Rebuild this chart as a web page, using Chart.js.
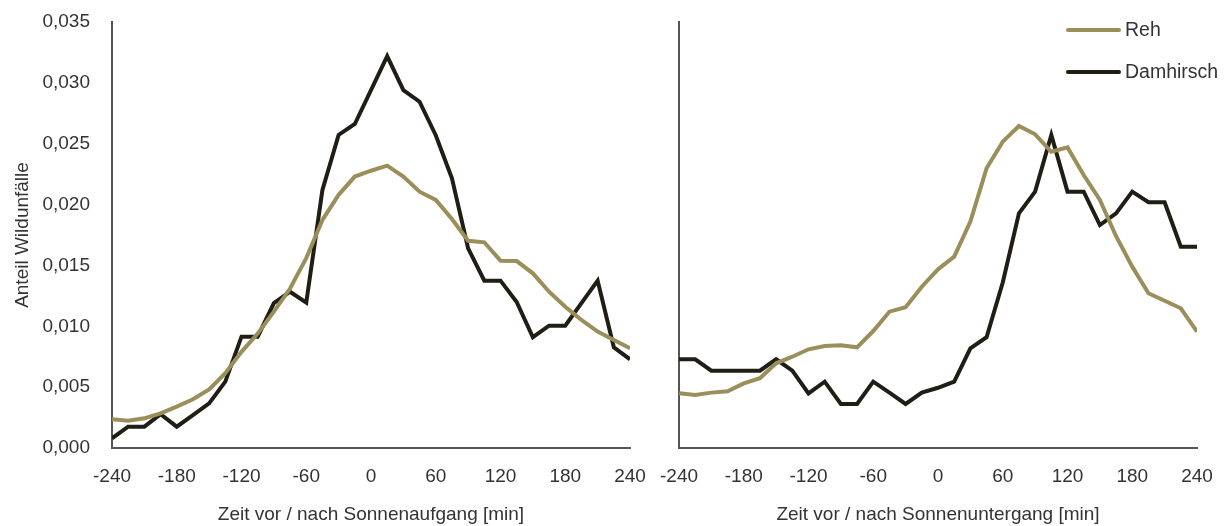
<!DOCTYPE html>
<html>
<head>
<meta charset="utf-8">
<script src="https://cdn.jsdelivr.net/npm/chart.js@4/dist/chart.umd.min.js"></script>
<style>
  html, body { margin: 0; padding: 0; background: #ffffff; }
  #wrap { position: relative; width: 1225px; height: 526px; }
  #left { position: absolute; left: 0; top: 0; }
  #right { position: absolute; left: 650px; top: 0; }
</style>
</head>
<body>
<div id="wrap">
  <canvas id="left" width="650" height="526"></canvas>
  <canvas id="right" width="575" height="526"></canvas>
</div>
<script>
// Minutes relative to sunrise / sunset, 15-minute bins
const minutes = [-240,-225,-210,-195,-180,-165,-150,-135,-120,-105,-90,-75,-60,-45,-30,-15,
                 0,15,30,45,60,75,90,105,120,135,150,165,180,195,210,225,240];

// Share of wildlife accidents around sunrise
const rehAufgang = [0.00236,0.00224,0.00244,0.00285,0.0034,0.0040,0.00482,0.00614,0.0079,0.0094,0.0112,0.0131,
                    0.0156,0.01873,0.0208,0.0223,0.02278,0.0232,0.0223,0.02106,0.02038,0.01881,0.01703,0.0169,
                    0.01539,0.01536,0.01435,0.01284,0.0116,0.01052,0.00956,0.00887,0.00819];
const damhirschAufgang = [0.0008,0.00175,0.00175,0.00277,0.00175,0.0027,0.00367,0.00545,0.00915,0.00915,0.0119,0.01284,
                          0.01194,0.0212,0.02572,0.02662,0.0294,0.0322,0.0294,0.02845,0.0257,0.02216,0.0164,0.01375,
                          0.01375,0.0120,0.0091,0.01005,0.01005,0.0119,0.01375,0.00827,0.00729];

// Share of wildlife accidents around sunset
const rehUntergang = [0.00449,0.00435,0.00455,0.00466,0.00531,0.00573,0.00696,0.0075,0.00811,0.00838,0.00844,0.00827,
                      0.00961,0.0112,0.01156,0.01325,0.01468,0.01572,0.0186,0.02298,0.02517,0.02646,0.02577,0.02434,
                      0.0247,0.02243,0.02038,0.0174,0.0149,0.01271,0.0121,0.01148,0.00956];
const damhirschUntergang = [0.00729,0.00729,0.00635,0.00635,0.00635,0.00635,0.00729,0.00635,0.00449,0.00545,0.00362,0.00362,
                            0.00545,0.00455,0.00362,0.00455,0.00495,0.00545,0.00819,0.0091,0.0136,0.01928,0.02106,0.02572,
                            0.02106,0.02106,0.01832,0.01928,0.02106,0.02019,0.02019,0.01654,0.01654];

const seriesNames = ['Reh', 'Damhirsch'];
const xTitles = ['Zeit vor / nach Sonnenaufgang [min]', 'Zeit vor / nach Sonnenuntergang [min]'];
const yTitle = 'Anteil Wildunfälle';

const OLIVE = '#9a8f5a';
const DARK = '#1f1d14';
const AXIS = '#555555';
const TEXT = '#333333';
const FONT = '"Liberation Sans", Arial, sans-serif';

const pts = (vals) => minutes.map((m, i) => ({ x: m, y: vals[i] }));

function lineDs(label, vals, color) {
  return {
    label, data: pts(vals), borderColor: color, backgroundColor: color,
    borderWidth: 4, pointRadius: 0, tension: 0, borderJoinStyle: 'miter', borderCapStyle: 'butt'
  };
}

// keep the plot area fixed: no extra room reserved for overhanging edge labels
function noPad(s) { s.paddingLeft = 0; s.paddingRight = 0; s.paddingTop = 0; s.paddingBottom = 0; }

function xScale(title) {
  return {
    type: 'linear', min: -240, max: 240,
    grid: { display: false, drawTicks: false },
    border: { display: true, color: AXIS, width: 2 },
    ticks: { stepSize: 60, color: TEXT, padding: 17, maxRotation: 0, autoSkip: false,
             font: { family: FONT, size: 19 } },
    title: { display: true, text: title, color: TEXT, padding: { top: 0, bottom: 0 },
             font: { family: FONT, size: 19 } },
    afterFit: (s) => { s.height = 78; noPad(s); }
  };
}

function yScale(showLabels, width) {
  return {
    type: 'linear', min: 0, max: 0.035,
    grid: { display: false, drawTicks: false },
    border: { display: true, color: AXIS, width: 2 },
    ticks: { display: showLabels, stepSize: 0.005, color: TEXT, padding: 22,
             font: { family: FONT, size: 19 },
             callback: (v) => v.toFixed(3).replace('.', ',') },
    title: { display: showLabels, text: yTitle, color: TEXT, padding: { top: 11, bottom: 0 },
             font: { family: FONT, size: 19 } },
    afterFit: (s) => { s.width = width; noPad(s); }
  };
}

// Legend drawn as short line samples with labels, stacked at the top right
const lineLegend = {
  id: 'lineLegend',
  afterDraw(chart) {
    const ctx = chart.ctx;
    const items = [[seriesNames[0], OLIVE, 30], [seriesNames[1], DARK, 72]];
    ctx.save();
    items.forEach(([name, color, y]) => {
      ctx.strokeStyle = color;
      ctx.lineWidth = 4;
      ctx.lineCap = 'round';
      ctx.beginPath();
      ctx.moveTo(418, y);
      ctx.lineTo(469, y);
      ctx.stroke();
      ctx.fillStyle = TEXT;
      ctx.font = '19.5px ' + FONT;
      ctx.textAlign = 'left';
      ctx.textBaseline = 'middle';
      ctx.fillText(name, 475, y + 1);
    });
    ctx.restore();
  }
};

const common = {
  responsive: false,
  animation: false,
  plugins: { legend: { display: false }, tooltip: { enabled: false } }
};

new Chart(document.getElementById('left'), {
  type: 'line',
  data: { datasets: [lineDs(seriesNames[0], rehAufgang, OLIVE), lineDs(seriesNames[1], damhirschAufgang, DARK)] },
  options: Object.assign({}, common, {
    layout: { padding: { top: 22, right: 20, left: 0, bottom: 0 } },
    scales: { x: xScale(xTitles[0]), y: yScale(true, 112) }
  })
});

new Chart(document.getElementById('right'), {
  type: 'line',
  data: { datasets: [lineDs(seriesNames[0], rehUntergang, OLIVE), lineDs(seriesNames[1], damhirschUntergang, DARK)] },
  options: Object.assign({}, common, {
    layout: { padding: { top: 22, right: 28, left: 0, bottom: 0 } },
    scales: { x: xScale(xTitles[1]), y: yScale(false, 29) }
  }),
  plugins: [lineLegend]
});
</script>
</body>
</html>
